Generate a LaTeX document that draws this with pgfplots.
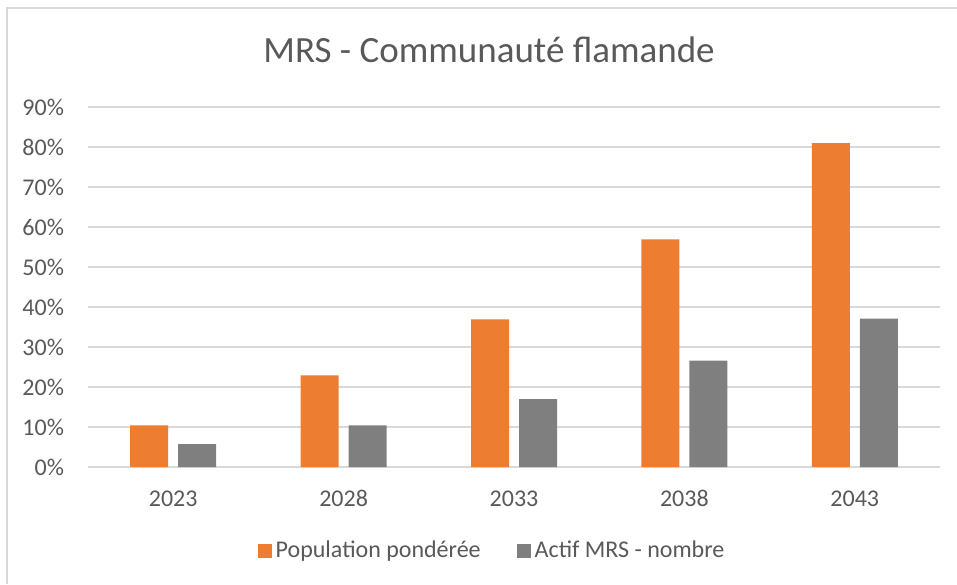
\documentclass[border=0pt]{standalone}
\usepackage{pgfplots}
\pgfplotsset{compat=1.18}
\usepackage{fontspec}
\setmainfont{Carlito}
\definecolor{xlorange}{HTML}{ED7D31}
\definecolor{xlgray}{HTML}{7F7F7F}
\definecolor{xltext}{HTML}{595959}
\definecolor{xlgrid}{HTML}{D9D9D9}

\begin{document}
\begin{tikzpicture}
% page = whole chart area, plot area's lower left at (0,0)
\useasboundingbox (-44pt,-58.5pt) rectangle (434.5pt,233.5pt);
\draw[xlgrid, line width=1pt] (-40.5pt,-58.5pt) -- (-40.5pt,229.5pt) -- (434.5pt,229.5pt);
\begin{axis}[
    scale only axis,
    width=426pt, height=180pt,
    ybar=5pt, bar width=19pt,
    xmin=-0.5, xmax=4.5,
    ymin=0, ymax=90,
    xtick=data,
    xticklabels={2023,2028,2033,2038,2043},
    ytick={0,10,...,90},
    yticklabels={0\%,10\%,20\%,30\%,40\%,50\%,60\%,70\%,80\%,90\%},
    ymajorgrids,
    grid style={xlgrid, line width=0.75pt},
    axis line style={draw=none},
    major tick length=0pt,
    tick label style={font=\fontsize{12}{14}\selectfont, text=xltext},
    yticklabel style={xshift=-8.5pt},
    xticklabel style={yshift=-8pt, text height=8pt, text depth=0pt},
    title={MRS - Communauté flamande},
    title style={at={(axis description cs:0.4707,1.125)}, anchor=center,
        font=\fontsize{18.5}{22}\selectfont, text=xltext},
    legend style={at={(axis description cs:0.4754,-0.2333)}, anchor=center,
        draw=none, legend columns=2, font=\fontsize{12}{14}\selectfont,
        text=xltext, /tikz/every even column/.append style={column sep=16pt}},
    legend image code/.code={\fill[#1] (0pt,-3.5pt) rectangle (7pt,3.5pt);},
]
\addplot[fill=xlorange, draw=none] coordinates {
    (0,10.4) (1,22.9) (2,36.9) (3,56.9) (4,81.0)};
\addplot[fill=xlgray, draw=none] coordinates {
    (0,5.7) (1,10.4) (2,17.0) (3,26.6) (4,37.1)};
\legend{Population pondérée, Actif MRS - nombre}
\end{axis}
\end{tikzpicture}
\end{document}
